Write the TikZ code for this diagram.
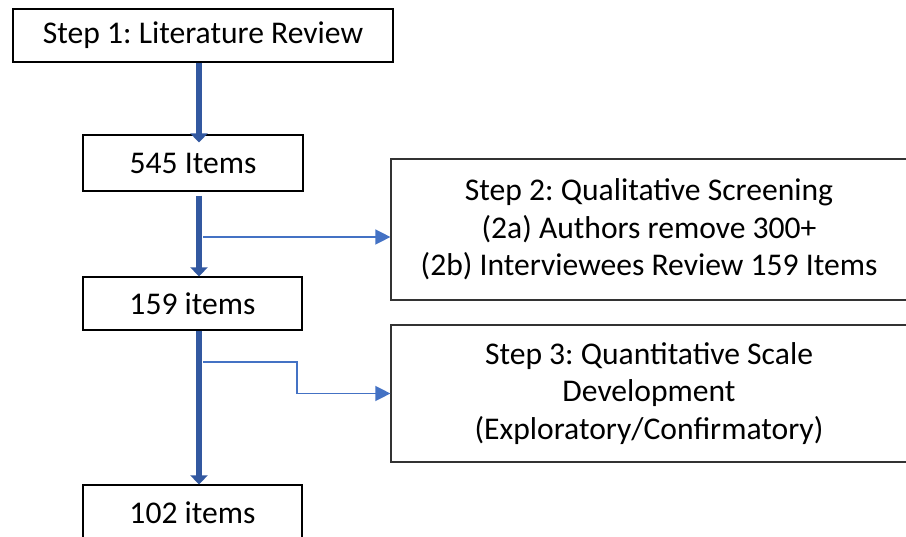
\documentclass[tikz,border=0pt]{standalone}
\usepackage{fontspec}
\setmainfont{Carlito}
\usepackage{tikz}
\usetikzlibrary{arrows.meta}
\frenchspacing

\definecolor{spineblue}{RGB}{50,88,160}
\definecolor{forkblue}{RGB}{68,114,196}

\tikzset{
  itembox/.style={draw=black, line width=1.2pt, fill=white, inner sep=0pt,
    align=center, font=\fontsize{31.6}{37.5}\selectfont},
  stepbox/.style={itembox, draw=black!80, minimum width=516pt},
  mainarrow/.style={draw=spineblue, line width=5.5pt,
    -{Triangle[width=17pt,length=9pt]}},
  sidearrow/.style={draw=forkblue, line width=1.4pt,
    -{Triangle[width=15pt,length=15pt]}}
}

\begin{document}
\begin{tikzpicture}[x=1pt, y=-1pt]
        \useasboundingbox (0, 0) rectangle (906, 537);
        \clip (0, 0) rectangle (906, 537);

        % left column
        \node[itembox, minimum width=380pt, minimum height=53pt] (review) at (203, 35.5)
            {Step 1: Literature Review};
        \node[itembox, minimum width=220pt, minimum height=56pt] (items545) at (193, 163)
            {545 Items};
        \node[itembox, minimum width=219pt, minimum height=53pt] (items159) at (192.5, 303.5)
            {159 items};
        \node[itembox, minimum width=219pt, minimum height=56pt] (items102) at (192.5, 513)
            {102 items};

        % right column
        \node[stepbox, minimum height=141pt] (screening) at (649, 229.5)
            {Step 2: Qualitative Screening\\(2a) Authors remove 300+\\(2b) Interviewees Review 159 Items};
        \node[stepbox, minimum height=137pt] (scale) at (649, 393.5)
            {Step 3: Quantitative Scale\\Development\\(Exploratory/Confirmatory)};

        \coordinate (spine) at (199, 0);
        \coordinate (fork1) at (203, 237);
        \coordinate (fork2) at (203, 362);

        \draw[mainarrow] (review.south -| spine) -- ([yshift=-8pt]items545.north -| spine);
        \draw[mainarrow] ([yshift=-4pt]items545.south -| spine) -- (items159.north -| spine);
        \draw[mainarrow] (items159.south -| spine) -- (items102.north -| spine);

        \draw[sidearrow] (fork1) -- (fork1 -| screening.west);
        \draw[sidearrow] (fork2) -- ++(94, 0) |- (scale.west);
\end{tikzpicture}
\end{document}
